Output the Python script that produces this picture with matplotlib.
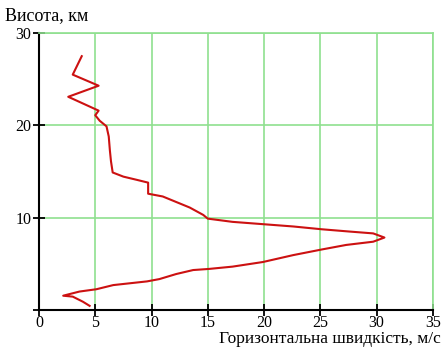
import matplotlib
matplotlib.use('Agg')
import matplotlib.pyplot as plt

# профіль горизонтальної швидкості вітру
speed = [4.5, 3.9, 3.0, 2.15, 3.6, 5.1, 6.6, 8.1, 9.6, 10.7, 12.2, 13.7, 15.1,
         17.2, 19.9, 22.6, 25.1, 27.3, 29.7, 30.7, 29.7, 27.6, 25.1, 22.6,
         19.9, 17.2, 15.0, 14.6, 13.4, 12.2, 11.0, 9.7, 9.7, 8.7, 7.5, 6.55,
         6.4, 6.3, 6.2, 6.0, 5.4, 5.0, 5.3, 2.6, 5.3, 3.0, 3.8]
height = [0.45, 0.9, 1.45, 1.55, 2.0, 2.25, 2.7, 2.9, 3.1, 3.35, 3.9, 4.33, 4.45,
          4.7, 5.2, 5.95, 6.55, 7.05, 7.4, 7.85, 8.3, 8.5, 8.75, 9.05,
          9.3, 9.55, 9.9, 10.3, 11.1, 11.7, 12.3, 12.6, 13.8, 14.1, 14.45, 14.9,
          16.1, 17.3, 18.8, 19.9, 20.5, 21.1, 21.6, 23.1, 24.3, 25.5, 27.5]

x_ticks = [0, 5, 10, 15, 20, 25, 30, 35]
y_ticks = [0, 10, 20, 30]
y_labels = ['', '10', '20', '30']

plt.rcParams['font.family'] = ['Liberation Serif', 'DejaVu Serif']

fig = plt.figure(figsize=(4.43, 3.47), dpi=100)
ax = fig.add_axes([0.088, 0.1066, 0.889, 0.798])

grid_col = '#8fe08f'
ax.grid(True, color=grid_col, linewidth=1.2, zorder=0)
ax.set_axisbelow(True)

ax.plot(speed, height, color='#cc1111', linewidth=1.5, zorder=3)

ax.set_xlim(0, 35)
ax.set_ylim(0, 30)
ax.set_xticks(x_ticks)
ax.set_yticks(y_ticks)
ax.set_yticklabels(y_labels)

ax.spines['top'].set_color(grid_col)
ax.spines['right'].set_color(grid_col)
ax.spines['top'].set_linewidth(1.2)
ax.spines['right'].set_linewidth(1.2)
ax.spines['left'].set_linewidth(1.5)
ax.spines['bottom'].set_linewidth(1.5)

ax.tick_params(axis='both', direction='inout', length=9, width=1.3,
               labelsize=11.5, colors='black')
ax.tick_params(axis='x', pad=-1)
ax.tick_params(axis='y', pad=1)

fig.text(0.012, 0.955, 'Висота, км', fontsize=13, ha='left', va='center')
fig.text(0.995, 0.022, 'Горизонтальна швидкість, м/с', fontsize=12.5,
         ha='right', va='center')

plt.savefig('out.png', dpi=100)
